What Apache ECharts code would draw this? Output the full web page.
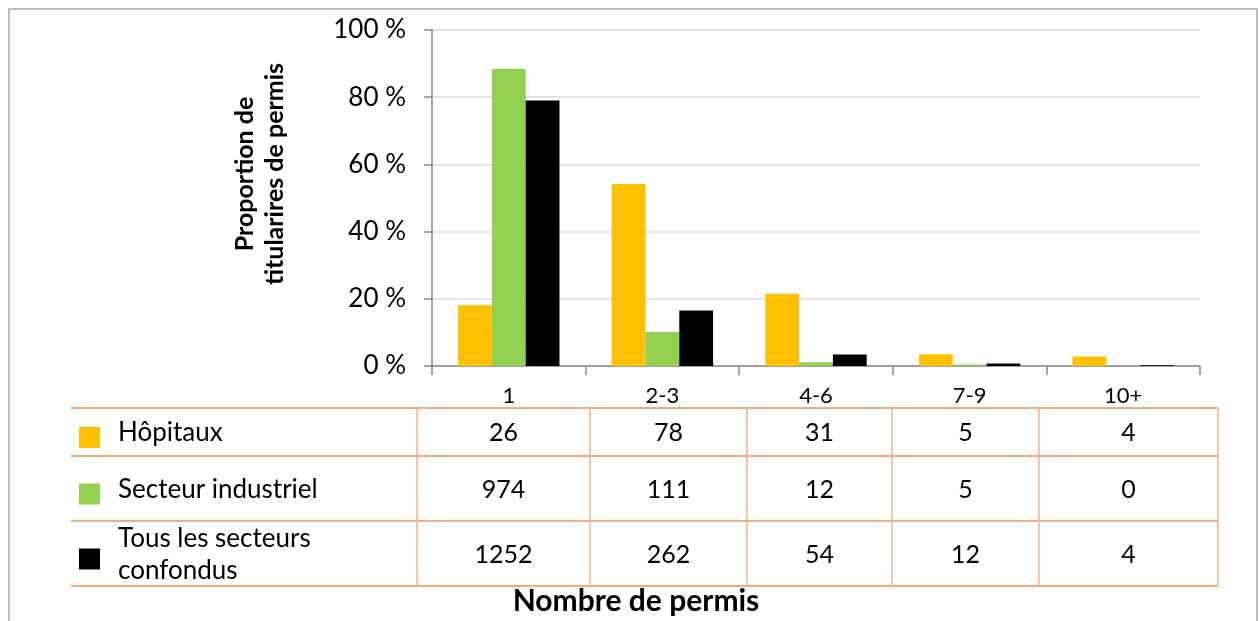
<!DOCTYPE html>
<html>
<head>
<meta charset="utf-8">
<script src="https://cdn.jsdelivr.net/npm/echarts@6/dist/echarts.min.js"></script>
<style>
  html, body { margin: 0; padding: 0; background: #fff; }
  #chart { width: 1259px; height: 621px; }
</style>
</head>
<body>
<div id="chart"></div>
<script>
// categories (nombre de permis)
var categories = ['1', '2-3', '4-6', '7-9', '10+'];
var seriesNames = ['Hôpitaux', 'Secteur industriel', 'Tous les secteurs confondus'];
var seriesLabels = ['Hôpitaux', 'Secteur industriel', 'Tous les secteurs\nconfondus'];
var seriesColors = ['#FFC000', '#92D050', '#000000'];

// proportions (%)
var hopitaux = [18.1, 54.2, 21.5, 3.5, 2.8];
var industriel = [88.4, 10.1, 1.1, 0.45, 0];
var tous = [79.0, 16.5, 3.4, 0.76, 0.25];

// counts shown in the table
var hopitauxCount = [26, 78, 31, 5, 4];
var industrielCount = [974, 111, 12, 5, 0];
var tousCount = [1252, 262, 54, 12, 4];

var yTicks = [0, 20, 40, 60, 80, 100];

var font = 'Lato';

// table layout
var colX = [71, 417, 590, 747, 892, 1039, 1218];
var rowY = [408, 456, 521, 586];

var mychart = echarts.init(document.getElementById('chart'));

var values = [hopitaux, industriel, tous];
var counts = [hopitauxCount, industrielCount, tousCount];

var graphics = [];
// outer frame
graphics.push({
    type: 'polyline',
    shape: { points: [[9, 640], [9, 9], [1257, 9], [1257, 640]] },
    style: { stroke: '#a6a6a6', lineWidth: 1.5, fill: null },
    silent: true
});
// y axis title
graphics.push({
    type: 'text',
    x: 260, y: 174,
    rotation: Math.PI / 2,
    style: {
        text: 'Proportion de\ntitularires de permis',
        fontFamily: font,
        fontWeight: 'bold',
        fontSize: 25,
        fill: '#000',
        align: 'center',
        verticalAlign: 'middle',
        lineHeight: 30
    }
});
// x axis title
graphics.push({
    type: 'text',
    x: 636, y: 601,
    style: {
        text: 'Nombre de permis',
        fontFamily: font,
        fontWeight: 'bold',
        fontSize: 30,
        fill: '#000',
        align: 'center',
        verticalAlign: 'middle'
    }
});
// table lines
rowY.forEach(function (y) {
    graphics.push({
        type: 'line',
        shape: { x1: colX[0], y1: y, x2: colX[colX.length - 1], y2: y },
        style: { stroke: '#EF9050', lineWidth: 1.5 },
        silent: true
    });
});
for (var c = 1; c < colX.length; c++) {
    graphics.push({
        type: 'line',
        shape: { x1: colX[c], y1: rowY[0], x2: colX[c], y2: rowY[rowY.length - 1] },
        style: { stroke: '#F5B183', lineWidth: 1.5 },
        silent: true
    });
}
// table rows: legend key, label, counts
for (var r = 0; r < seriesLabels.length; r++) {
    var cy = (rowY[r] + rowY[r + 1]) / 2;
    graphics.push({
        type: 'rect',
        shape: { x: 79, y: cy - 5, width: 21, height: 21 },
        style: { fill: seriesColors[r] }
    });
    graphics.push({
        type: 'text',
        x: 118, y: cy + 1,
        style: {
            text: seriesLabels[r],
            fontFamily: font,
            fontSize: 26,
            fill: '#000',
            align: 'left',
            verticalAlign: 'middle',
            lineHeight: 32
        }
    });
    for (var k = 0; k < categories.length; k++) {
        graphics.push({
            type: 'text',
            x: (colX[k + 1] + colX[k + 2]) / 2, y: cy + 1,
            style: {
                text: String(counts[r][k]),
                fontFamily: font,
                fontSize: 25,
                fill: '#000',
                align: 'center',
                verticalAlign: 'middle'
            }
        });
    }
}

var series = values.map(function (v, i) {
    return {
        name: seriesNames[i],
        type: 'bar',
        data: v,
        barGap: 0,
        barCategoryGap: '34%',
        itemStyle: { color: seriesColors[i] },
        animation: false
    };
});

var option = {
    animation: false,
    grid: { left: 432, right: 59, top: 30, bottom: 255, containLabel: false },
    xAxis: {
        type: 'category',
        data: categories,
        axisLine: { lineStyle: { color: '#868686', width: 1.5 } },
        axisTick: { show: true, length: 9, lineStyle: { color: '#868686', width: 1.5 } },
        axisLabel: { color: '#000', fontSize: 22, fontFamily: font, margin: 19 }
    },
    yAxis: {
        type: 'value',
        min: yTicks[0],
        max: yTicks[yTicks.length - 1],
        interval: 20,
        axisLine: { show: true, lineStyle: { color: '#868686', width: 1.5 } },
        axisTick: { show: true, length: 8, lineStyle: { color: '#868686', width: 1.5 } },
        splitLine: { lineStyle: { color: '#D9D9D9', width: 1.5 } },
        axisLabel: {
            color: '#000', fontSize: 26, fontFamily: font, margin: 26,
            formatter: function (v) { return v + ' %'; }
        }
    },
    series: series,
    graphic: graphics
};
mychart.setOption(option);
</script>
</body>
</html>
